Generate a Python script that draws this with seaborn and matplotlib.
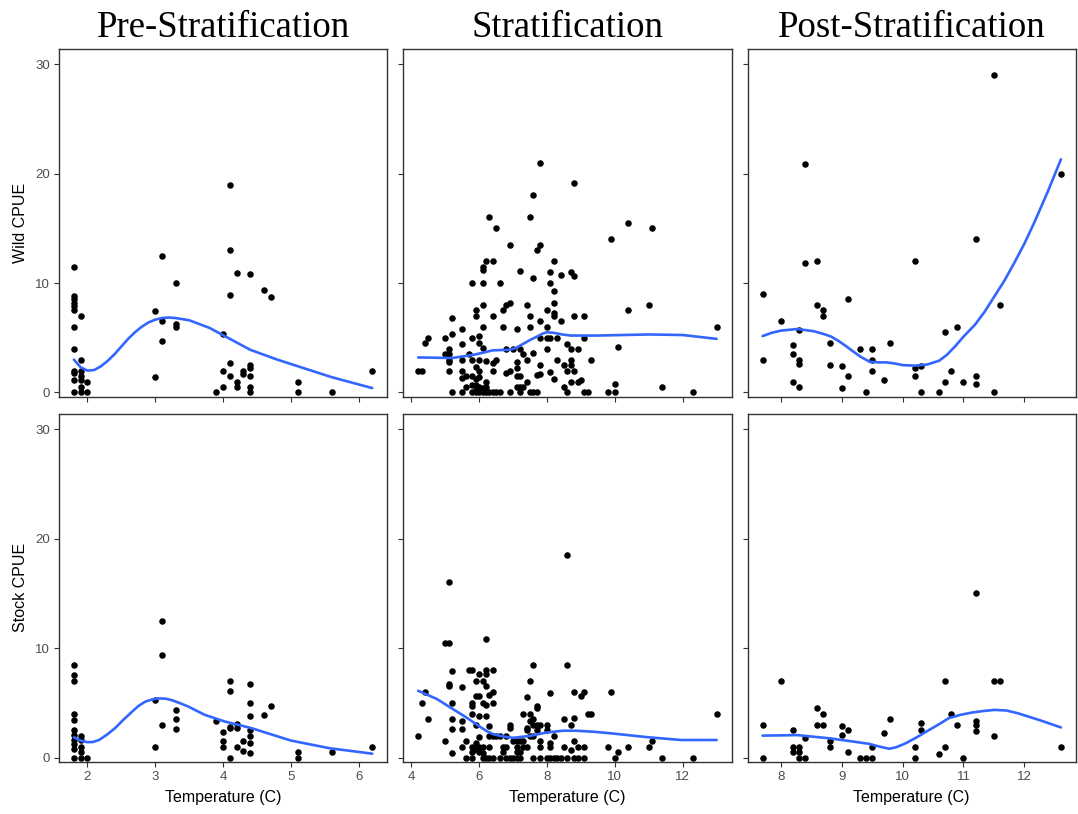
import matplotlib
matplotlib.use("Agg")
import matplotlib.pyplot as plt
import seaborn as sns
import pandas as pd

# ==================================================
# Data (temperature in C, CPUE)
# ==================================================

periods = ['Pre-Stratification', 'Stratification', 'Post-Stratification']
stocks = ['Wild CPUE', 'Stock CPUE']

# -- Pre-Stratification, wild
pre_wild_temp = [1.8, 1.8, 1.8, 1.8, 1.8, 1.8, 1.8, 1.8, 1.8, 1.8, 1.8, 1.8,
                 1.9, 1.9, 1.9, 1.9, 1.9, 1.9, 1.9,
                 2.0, 2.0,
                 3.0, 3.0, 3.1, 3.1, 3.1, 3.3, 3.3, 3.3,
                 3.9, 4.0, 4.0, 4.0,
                 4.1, 4.1, 4.1, 4.1, 4.1,
                 4.2, 4.2, 4.2, 4.3, 4.3,
                 4.4, 4.4, 4.4, 4.4, 4.4, 4.4,
                 4.6, 4.7, 5.1, 5.1, 5.6, 6.2]
pre_wild_cpue = [11.5, 8.8, 8.5, 8.2, 7.9, 7.5, 6.0, 4.0, 2.0, 1.8, 1.1, 0,
                 7.0, 3.0, 2.0, 1.5, 1.1, 0.5, 0,
                 1.0, 0,
                 7.4, 1.4, 12.5, 6.5, 4.7, 10.0, 6.3, 6.0,
                 0, 5.3, 2.0, 0.5,
                 19.0, 13.0, 8.9, 2.7, 1.5,
                 10.9, 1.0, 0.5, 2.0, 1.7,
                 10.8, 2.5, 2.2, 1.5, 0.5, 0,
                 9.4, 8.7, 1.0, 0, 0, 2.0]
pre_wild_fit_temp = [1.8, 1.9, 2.0, 2.1, 2.2, 2.3, 2.4, 2.5, 2.6, 2.7, 2.8,
                     2.9, 3.0, 3.1, 3.2, 3.3, 3.5, 3.8, 4.1, 4.4, 4.8, 5.2,
                     5.6, 6.2]
pre_wild_fit_cpue = [3.0, 2.3, 2.0, 2.05, 2.4, 2.9, 3.5, 4.2, 4.9, 5.5, 6.0,
                     6.4, 6.65, 6.8, 6.85, 6.8, 6.6, 5.9, 4.9, 3.9, 3.0, 2.2,
                     1.4, 0.4]

# -- Stratification, wild
strat_wild_temp = [7.8, 8.8, 7.6, 7.5, 6.3, 6.5, 10.4, 11.1, 9.9, 6.9,
                   7.8, 7.7, 6.2, 6.4, 8.2, 6.1, 6.1, 7.2, 8.1, 8.7,
                   8.4, 8.8, 7.6, 5.8, 6.1, 6.6, 8.1, 8.2, 8.2, 6.9,
                   6.8, 7.4, 6.1, 11.0, 5.9, 6.7, 8.0, 10.4, 8.2, 5.9,
                   6.4, 7.5, 8.2, 8.8, 9.1, 5.2, 7.8, 8.4, 6.1, 6.7,
                   7.5, 8.0, 13.0, 5.5, 7.1, 5.2, 6.0, 4.5, 5.0, 5.8,
                   7.8, 8.0, 8.1, 8.3, 9.1, 4.4, 6.0, 5.5, 8.6, 10.1,
                   6.1, 5.1, 6.8, 7.0, 7.2, 8.0, 8.7, 8.9, 5.0, 5.1,
                   5.7, 7.3, 7.6, 5.1, 5.5, 5.8, 6.0, 6.2, 6.5, 7.4,
                   8.3, 8.7, 9.3, 5.1, 6.4, 7.1, 7.8, 8.5, 8.7, 5.9,
                   7.1, 5.5, 4.2, 4.3, 5.1, 6.0, 6.4, 6.9, 8.6, 8.8,
                   8.1, 6.8, 7.8, 7.7, 5.6, 5.8, 6.0, 7.1, 7.2, 5.5,
                   5.9, 8.2, 6.2, 7.4, 8.7, 8.9, 9.0, 5.8, 5.9, 10.0,
                   5.6, 6.0, 6.1, 6.2, 7.1, 7.2, 7.3, 8.5, 11.4, 5.9,
                   5.2, 5.5, 5.8, 5.9, 6.0, 6.1, 6.2, 6.3, 6.4, 6.5,
                   6.6, 6.9, 7.2, 7.5, 7.6, 7.7, 8.6, 9.1, 9.2, 9.8,
                   10.0, 12.3]
strat_wild_cpue = [21.0, 19.1, 18.0, 16.0, 16.0, 15.0, 15.5, 15.0, 14.0, 13.5,
                   13.5, 13.0, 12.0, 12.0, 12.0, 11.5, 11.2, 11.1, 11.0, 11.0,
                   10.7, 10.6, 10.5, 10.0, 10.0, 10.0, 10.0, 9.3, 8.2, 8.2,
                   8.0, 8.0, 8.0, 8.0, 7.5, 7.5, 7.5, 7.5, 7.3, 7.0,
                   7.0, 7.0, 7.0, 7.0, 7.0, 6.8, 6.5, 6.5, 6.0, 6.0,
                   6.0, 6.0, 6.0, 5.8, 5.8, 5.3, 5.2, 5.0, 5.0, 5.0,
                   5.0, 5.0, 5.0, 5.0, 5.0, 4.5, 4.5, 4.4, 4.4, 4.2,
                   4.1, 4.0, 4.0, 4.0, 4.0, 4.0, 4.0, 4.0, 3.5, 3.5,
                   3.5, 3.5, 3.6, 3.0, 3.0, 3.0, 3.0, 2.9, 3.0, 3.0,
                   3.0, 3.0, 3.0, 2.75, 2.7, 2.8, 2.5, 2.5, 2.5, 2.3,
                   2.2, 2.0, 2.0, 2.0, 2.0, 2.0, 2.0, 2.0, 2.0, 2.0,
                   1.9, 1.8, 1.7, 1.6, 1.5, 1.5, 1.4, 1.5, 1.5, 1.3,
                   1.2, 1.2, 1.0, 1.0, 1.0, 1.0, 1.1, 0.7, 0.7, 0.8,
                   0.5, 0.5, 0.4, 0.5, 0.5, 0.5, 0.5, 0.5, 0.5, 0.25,
                   0, 0, 0, 0, 0, 0, 0, 0, 0, 0,
                   0, 0, 0, 0, 0, 0, 0, 0, 0, 0,
                   0, 0]
strat_wild_fit_temp = [4.2, 5.2, 5.85, 6.4, 6.9, 7.1, 7.3, 7.5, 7.7, 7.85, 8.0,
                       8.2, 8.45, 8.7, 9.45, 11.0, 12.0, 13.0]
strat_wild_fit_cpue = [3.2, 3.15, 3.45, 3.85, 3.9, 4.1, 4.45, 4.8, 5.1, 5.35,
                       5.5, 5.45, 5.3, 5.2, 5.2, 5.3, 5.25, 4.9]

# -- Post-Stratification, wild
post_wild_temp = [7.7, 7.7, 8.0, 8.2, 8.2, 8.2, 8.3, 8.3, 8.3, 8.3,
                  8.4, 8.4, 8.6, 8.6, 8.7, 8.7, 8.8, 8.8, 9.0, 9.0,
                  9.1, 9.1, 9.3, 9.4, 9.5, 9.5, 9.5, 9.7, 9.8, 10.2,
                  10.2, 10.2, 10.3, 10.3, 10.6, 10.7, 10.7, 10.8, 10.9, 11.0,
                  11.2, 11.2, 11.2, 11.5, 11.5, 11.6, 12.6]
post_wild_cpue = [9.0, 3.0, 6.5, 4.3, 3.5, 1.0, 5.7, 3.0, 2.6, 0.5,
                  20.9, 11.8, 12.0, 8.0, 7.5, 7.0, 4.5, 2.5, 2.4, 0.4,
                  8.5, 1.5, 4.0, 0, 4.0, 3.0, 2.0, 1.1, 4.5, 12.0,
                  2.2, 1.5, 2.4, 0, 0, 5.5, 1.0, 2.0, 6.0, 1.0,
                  14.0, 1.5, 0.8, 29.0, 0, 8.0, 20.0]
post_wild_fit_temp = [7.7, 7.85, 8.0, 8.27, 8.54, 8.7, 8.83, 8.95, 9.08, 9.2,
                      9.3, 9.46, 9.6, 9.73, 9.87, 10.0, 10.2, 10.4, 10.6, 10.73,
                      10.86, 11.0, 11.19, 11.35, 11.51, 11.67, 11.83, 12.0,
                      12.16, 12.38, 12.6]
post_wild_fit_cpue = [5.15, 5.45, 5.65, 5.8, 5.6, 5.35, 5.1, 4.7, 4.2, 3.7,
                      3.3, 2.8, 2.75, 2.75, 2.65, 2.5, 2.45, 2.55, 2.9, 3.45,
                      4.2, 5.1, 6.2, 7.4, 8.8, 10.2, 11.8, 13.6,
                      15.5, 18.3, 21.3]

# -- Pre-Stratification, stocked
pre_stock_temp = [1.8, 1.8, 1.8, 1.8, 1.8, 1.8, 1.8, 1.8, 1.8, 1.8, 1.8,
                  1.9, 1.9, 1.9, 1.9, 1.9,
                  2.0,
                  3.0, 3.0, 3.1, 3.1, 3.1, 3.3, 3.3, 3.3,
                  3.9, 4.0, 4.0, 4.0,
                  4.1, 4.1, 4.1, 4.1, 4.1,
                  4.2, 4.2, 4.2, 4.3, 4.3,
                  4.4, 4.4, 4.4, 4.4, 4.4, 4.4, 4.4,
                  4.6, 4.7, 5.1, 5.1, 5.6, 6.2]
pre_stock_cpue = [8.5, 7.5, 7.0, 4.0, 3.4, 2.5, 2.1, 1.6, 1.25, 0.75, 0,
                  2.0, 1.6, 1.0, 0.55, 0,
                  0,
                  5.3, 1.0, 12.5, 9.4, 3.0, 4.3, 3.5, 2.6,
                  3.3, 2.3, 1.5, 1.0,
                  7.0, 6.1, 2.8, 2.7, 0,
                  3.1, 2.7, 1.0, 1.5, 0.6,
                  6.7, 5.0, 3.8, 2.5, 2.0, 1.3, 0.4,
                  3.9, 4.7, 0.5, 0, 0.5, 1.0]
pre_stock_fit_temp = [1.8, 1.9, 2.0, 2.08, 2.17, 2.29, 2.41, 2.53, 2.66, 2.75,
                      2.85, 2.95, 3.05, 3.15, 3.24, 3.36, 3.49, 3.61, 3.73,
                      4.02, 4.41, 5.0, 5.57, 6.2]
pre_stock_fit_cpue = [1.85, 1.55, 1.4, 1.42, 1.6, 2.1, 2.7, 3.45, 4.2, 4.7,
                      5.1, 5.3, 5.4, 5.38, 5.25, 4.98, 4.65, 4.27, 3.9,
                      3.3, 2.7, 1.55, 0.85, 0.35]

# -- Stratification, stocked
strat_stock_temp = [4.2, 4.3, 4.4, 4.5, 5.0, 5.0, 5.1, 5.1, 5.1, 5.1,
                    5.2, 5.2, 5.2, 5.2, 5.2, 5.5, 5.5, 5.5, 5.5, 5.6,
                    5.6, 5.7, 5.8, 5.8, 5.8, 5.8, 5.8, 5.8, 5.8, 5.9,
                    5.9, 5.9, 5.9, 5.9, 6.0, 6.0, 6.0, 6.0, 6.0, 6.0,
                    6.1, 6.1, 6.1, 6.1, 6.1, 6.2, 6.2, 6.2, 6.2, 6.2,
                    6.2, 6.2, 6.3, 6.3, 6.3, 6.3, 6.3, 6.4, 6.4, 6.4,
                    6.4, 6.4, 6.5, 6.6, 6.6, 6.7, 6.7, 6.8, 6.8, 6.8,
                    6.9, 6.9, 6.9, 7.0, 7.0, 7.1, 7.1, 7.1, 7.1, 7.2,
                    7.2, 7.2, 7.3, 7.3, 7.3, 7.4, 7.4, 7.4, 7.4, 7.5,
                    7.5, 7.5, 7.5, 7.6, 7.6, 7.6, 7.6, 7.6, 7.7, 7.7,
                    7.7, 7.7, 7.8, 7.8, 7.8, 7.8, 8.0, 8.0, 8.0, 8.1,
                    8.1, 8.1, 8.1, 8.2, 8.2, 8.3, 8.4, 8.5, 8.5, 8.6,
                    8.6, 8.6, 8.7, 8.7, 8.8, 8.8, 8.8, 8.8, 8.9, 8.9,
                    9.0, 9.1, 9.1, 9.1, 9.2, 9.3, 9.8, 9.9, 10.0, 10.1,
                    10.4, 11.0, 11.1, 11.4, 12.3, 13.0]
strat_stock_cpue = [2.0, 5.0, 6.0, 3.5, 1.5, 10.5, 10.5, 16.0, 6.7, 6.5,
                    7.9, 5.0, 3.5, 2.6, 0.4, 6.4, 3.3, 2.6, 1.0, 1.5,
                    0, 8.0, 8.0, 5.0, 4.7, 4.0, 1.0, 0.55, 0, 7.0,
                    5.6, 3.0, 1.3, 0.75, 7.6, 5.6, 3.8, 1.9, 1.0, 0.55,
                    7.0, 5.0, 1.0, 0.4, 0, 10.8, 8.0, 7.6, 6.5, 4.8,
                    3.8, 0, 5.7, 2.9, 2.0, 1.0, 0, 8.0, 6.0, 5.0,
                    2.0, 0, 2.0, 2.0, 0, 1.0, 0.5, 2.0, 1.0, 0,
                    3.0, 2.7, 0, 1.5, 0, 1.5, 1.0, 0.5, 0, 1.5,
                    0.5, 0, 4.0, 1.5, 1.0, 5.5, 2.7, 2.5, 1.0, 7.0,
                    4.0, 3.3, 2.0, 8.5, 3.5, 3.0, 2.0, 0, 4.7, 4.5,
                    3.0, 2.5, 3.0, 1.5, 1.0, 0, 3.0, 2.5, 0, 5.9,
                    1.3, 1.0, 0, 2.0, 0, 0, 0, 3.5, 1.0, 18.5,
                    8.5, 0, 3.0, 0.7, 6.0, 3.6, 1.5, 0, 0, 1.0,
                    5.6, 6.0, 1.0, 0, 4.0, 4.0, 1.0, 6.0, 0, 0.5,
                    1.0, 1.0, 1.5, 0, 0, 4.0]
strat_stock_fit_temp = [4.2, 4.75, 5.34, 5.6, 5.84, 6.05, 6.23, 6.4, 6.52, 6.75,
                        7.0, 7.5, 7.98, 8.47, 8.85, 9.4, 9.92, 10.99, 11.96, 13.0]
strat_stock_fit_cpue = [6.1, 5.35, 4.2, 3.7, 3.2, 2.75, 2.4, 2.15, 2.05, 1.9,
                        1.8, 1.98, 2.28, 2.45, 2.45, 2.35, 2.2, 1.85, 1.6, 1.6]

# -- Post-Stratification, stocked
post_stock_temp = [7.7, 7.7, 8.0, 8.2, 8.2, 8.2, 8.3, 8.3, 8.3, 8.4,
                   8.4, 8.6, 8.6, 8.7, 8.7, 8.8, 8.8, 9.0, 9.0, 9.1,
                   9.1, 9.3, 9.4, 9.5, 9.5, 9.7, 9.8, 10.2, 10.2, 10.3,
                   10.3, 10.6, 10.7, 10.7, 10.8, 10.9, 11.0, 11.2, 11.2, 11.2,
                   11.2, 11.5, 11.5, 11.6, 12.6]
post_stock_cpue = [3.0, 0, 7.0, 2.5, 1.0, 0.5, 1.0, 0.5, 0, 1.8,
                   0, 4.5, 3.0, 4.0, 3.0, 1.5, 1.0, 2.9, 2.1, 2.5,
                   0.5, 0, 0, 1.0, 0, 2.2, 3.5, 1.0, 0, 3.2,
                   2.5, 0.3, 7.0, 1.0, 4.0, 3.0, 0, 15.0, 3.3, 3.0,
                   2.4, 7.0, 2.0, 7.0, 1.0]
post_stock_fit_temp = [7.7, 8.27, 8.81, 9.2, 9.45, 9.62, 9.78, 9.9, 10.05, 10.25,
                       10.43, 10.6, 10.76, 10.95, 11.13, 11.32, 11.51, 11.7,
                       11.89, 12.26, 12.6]
post_stock_fit_cpue = [2.0, 2.05, 1.75, 1.45, 1.25, 1.0, 0.8, 0.95, 1.3, 1.9,
                       2.5, 3.05, 3.6, 3.9, 4.1, 4.25, 4.35, 4.3,
                       4.05, 3.4, 2.75]

# tick marks of each column
pre_ticks = [2, 3, 4, 5, 6]
strat_ticks = [4, 6, 8, 10, 12]
post_ticks = [8, 9, 10, 11, 12]
cpue_ticks = [0, 10, 20, 30]

# ==================================================
# Long tables
# ==================================================

def monta(temp, cpue, periodo, tipo):
    return pd.DataFrame({'Temperatura': temp, 'CPUE': cpue,
                         'Periodo': periodo, 'Tipo': tipo})

df_pontos = pd.concat([
    monta(pre_wild_temp, pre_wild_cpue, periods[0], stocks[0]),
    monta(strat_wild_temp, strat_wild_cpue, periods[1], stocks[0]),
    monta(post_wild_temp, post_wild_cpue, periods[2], stocks[0]),
    monta(pre_stock_temp, pre_stock_cpue, periods[0], stocks[1]),
    monta(strat_stock_temp, strat_stock_cpue, periods[1], stocks[1]),
    monta(post_stock_temp, post_stock_cpue, periods[2], stocks[1]),
])
df_curvas = pd.concat([
    monta(pre_wild_fit_temp, pre_wild_fit_cpue, periods[0], stocks[0]),
    monta(strat_wild_fit_temp, strat_wild_fit_cpue, periods[1], stocks[0]),
    monta(post_wild_fit_temp, post_wild_fit_cpue, periods[2], stocks[0]),
    monta(pre_stock_fit_temp, pre_stock_fit_cpue, periods[0], stocks[1]),
    monta(strat_stock_fit_temp, strat_stock_fit_cpue, periods[1], stocks[1]),
    monta(post_stock_fit_temp, post_stock_fit_cpue, periods[2], stocks[1]),
])

# ==================================================
# Figure
# ==================================================

sns.set_style('white')
plt.rcParams['font.family'] = ['Liberation Sans', 'DejaVu Sans']

fig, axes = plt.subplots(2, 3, figsize=(10.78, 8.14), dpi=100, sharey=True)
fig.subplots_adjust(left=0.0547, right=0.998, top=0.940, bottom=0.064,
                    wspace=0.049, hspace=0.049)

col_ticks = [pre_ticks, strat_ticks, post_ticks]

for j, periodo in enumerate(periods):
    col = df_pontos[df_pontos['Periodo'] == periodo]
    lo, hi = col['Temperatura'].min(), col['Temperatura'].max()
    margem = 0.05 * (hi - lo)
    for i, tipo in enumerate(stocks):
        ax = axes[i, j]
        pts = col[col['Tipo'] == tipo]
        fit = df_curvas[(df_curvas['Periodo'] == periodo) & (df_curvas['Tipo'] == tipo)]
        sns.scatterplot(data=pts, x='Temperatura', y='CPUE', color='black',
                        s=22, linewidth=0, ax=ax, zorder=2)
        sns.lineplot(data=fit, x='Temperatura', y='CPUE', color='#3366FF',
                     linewidth=1.9, estimator=None, sort=False, ax=ax, zorder=3)
        ax.set_xlim(lo - margem, hi + margem)
        ax.set_ylim(-0.4, 31.4)
        ax.set_xticks(col_ticks[j])
        ax.set_yticks(cpue_ticks)
        ax.tick_params(direction='out', length=3.5, width=0.8, color='#333333',
                       labelcolor='#4D4D4D', labelsize=9.5, pad=3,
                       bottom=True, left=True)
        for sp in ax.spines.values():
            sp.set_visible(True)
            sp.set_color('#333333')
            sp.set_linewidth(1.0)
        if i == 0:
            ax.set_title(periodo, family=['Liberation Serif', 'DejaVu Serif'],
                         fontsize=26.5, color='black', pad=8.5)
            ax.tick_params(labelbottom=False)
            ax.set_xlabel('')
        else:
            ax.set_xlabel('Temperature (C)', fontsize=11.5, color='black',
                          labelpad=5)
        if j == 0:
            ax.set_ylabel(tipo, fontsize=11.5, color='black', labelpad=5)
        else:
            ax.set_ylabel('')

fig.savefig('out.png', dpi=100)
